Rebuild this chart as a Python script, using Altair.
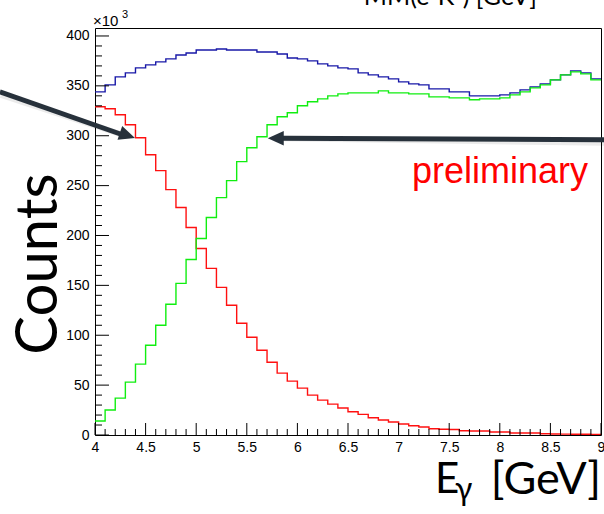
import altair as alt
import pandas as pd

# ---- data ----
bin_edges = [round(4.0 + 0.1 * i, 1) for i in range(51)]   # 50 bins of 0.1 GeV, 4..9 GeV

total = [344, 351, 359, 363, 368, 371, 374, 377, 381, 383,
         386, 386, 387, 386, 386, 386, 384, 384, 382, 378,
         377, 375, 372, 370, 368, 367, 363, 361, 359, 357,
         354, 352, 351, 347, 347, 344, 344, 340, 340, 340,
         341, 343, 346, 349, 352, 356, 361, 365, 363, 357]

red = [329, 327, 321, 311, 298, 281, 265, 246, 228, 208,
       187, 167, 148, 130, 112, 98, 85, 73, 62, 54,
       47, 40, 35, 31, 27, 23.3, 20.7, 17.3, 15, 13,
       11, 9.3, 8, 6.3, 5.7, 5.5, 4.3, 4, 4, 3,
       3, 2, 2, 2, 1.2, 1.0, 0.9, 0.8, 0.7, 0.6]

green = [14, 25, 37, 53, 71, 90, 110, 131, 152, 176,
         197, 218, 238, 255, 274, 288, 299, 311, 319, 323,
         330, 334, 337, 340, 342, 343, 343, 343, 345, 343,
         343, 342, 342, 339, 339, 338, 338, 336, 337, 337,
         338, 341, 344, 348, 351, 356, 361, 364, 362, 356]

x_major = [4, 4.5, 5, 5.5, 6, 6.5, 7, 7.5, 8, 8.5, 9]
x_minor = [e for i, e in enumerate(bin_edges) if i % 5 != 0]
y_major = [0, 50, 100, 150, 200, 250, 300, 350, 400]
y_minor = [v for v in range(0, 410, 10) if v % 50 != 0]

# arrows (data coordinates: start -> tip)
arrow_x1 = [3.06, 9.03]
arrow_y1 = [344, 296]
arrow_x2 = [4.30, 5.81]     # end of shaft
arrow_y2 = [300, 297.5]
arrow_tx = [4.395, 5.707]   # arrow tips
arrow_ty = [297.7, 297.5]
arrow_ang = [19, 180]

XMIN, XMAX, YMAX = 4, 9, 408
W, H = 506, 407


def steps(vals):
    xs_ = bin_edges[:]
    ys_ = list(vals) + [vals[-1]]
    return pd.DataFrame({"x": xs_, "y": ys_})


xs = alt.Scale(domain=[XMIN, XMAX], nice=False, zero=False)
ys = alt.Scale(domain=[0, YMAX], nice=False, zero=True)

x_axis = alt.Axis(values=x_major, format="~g", labelFont="Liberation Sans", labelFontSize=14,
                  labelColor="black", ticks=False, domain=False, grid=False, labelPadding=5,
                  labelOverlap=False, labelFlush=False, labelBound=False, title=None)
y_axis = alt.Axis(values=y_major, format="d", labelFont="Liberation Sans", labelFontSize=14,
                  labelColor="black", ticks=False, domain=False, grid=False, labelPadding=6,
                  labelOverlap=False, labelFlush=False, labelBound=False, title=None)


def X(f):
    return alt.X(f, scale=xs, axis=x_axis)


def Y(f):
    return alt.Y(f, scale=ys, axis=y_axis)


def hist(vals, color):
    return alt.Chart(steps(vals)).mark_line(interpolate="step-after", color=color,
                                            strokeWidth=1.4).encode(x=X("x:Q"), y=Y("y:Q"))


blue_line = hist(total, "#1818a8")
red_line = hist(red, "#ff1010")
green_line = hist(green, "#10ee10")

# inward ticks (ROOT style)
xmaj = alt.Chart(pd.DataFrame({"x": x_major})).mark_rule(color="black", strokeWidth=1).encode(
    x=X("x:Q"), y=alt.value(H), y2=alt.value(H - 12))
xmin = alt.Chart(pd.DataFrame({"x": x_minor})).mark_rule(color="black", strokeWidth=1).encode(
    x=X("x:Q"), y=alt.value(H), y2=alt.value(H - 6))
ymaj = alt.Chart(pd.DataFrame({"y": y_major})).mark_rule(color="black", strokeWidth=1).encode(
    y=Y("y:Q"), x=alt.value(0), x2=alt.value(14))
ymin = alt.Chart(pd.DataFrame({"y": y_minor})).mark_rule(color="black", strokeWidth=1).encode(
    y=Y("y:Q"), x=alt.value(0), x2=alt.value(7))

# arrows
adf = pd.DataFrame({"x1": arrow_x1, "y1": arrow_y1, "x2": arrow_x2, "y2": arrow_y2,
                    "tx": arrow_tx, "ty": arrow_ty, "ang": arrow_ang})
shadow = alt.Chart(adf).mark_rule(color="#000000", strokeWidth=6, opacity=0.08,
                                  xOffset=1, yOffset=3).encode(
    x=X("x1:Q"), y=Y("y1:Q"), x2="x2:Q", y2="y2:Q")
shaft = alt.Chart(adf).mark_rule(color="#27313b", strokeWidth=5, strokeCap="butt").encode(
    x=X("x1:Q"), y=Y("y1:Q"), x2="x2:Q", y2="y2:Q")
head = alt.Chart(adf).mark_point(shape="M0,0 L-2,-0.9 L-2,0.9 Z", filled=True, size=256,
                                 color="#27313b", opacity=1, strokeWidth=0).encode(
    x=X("tx:Q"), y=Y("ty:Q"), angle=alt.Angle("ang:Q", scale=None))


def label(text, x, y, size, font="Lato", color="black", align="left", angle=0, baseline="alphabetic"):
    kw = dict(text=text, font=font, fontSize=size, color=color, align=align, baseline=baseline)
    if angle:
        kw["angle"] = angle
    return alt.Chart(pd.DataFrame({"a": [0]})).mark_text(**kw).encode(
        x=alt.value(x), y=alt.value(y))


texts = [
    label("×10", -2, -2, 15, font="Liberation Sans"),
    label("3", 27, -10, 11, font="Liberation Sans"),
    label("MM(e⁻K⁺) [GeV]", 442, -23, 25, align="right"),
    label("Counts", -55, 236, 58, align="center", angle=270, baseline="middle"),
    label("E", 340, 465, 42),
    label("γ", 360, 472, 32),
    label("[GeV]", 506, 466, 45, align="right"),
    label("preliminary", 493, 155, 36, font="Liberation Sans", color="#ff0000", align="right"),
]

chart = alt.layer(blue_line, red_line, green_line, xmaj, xmin, ymaj, ymin,
                  shadow, shaft, head, *texts).properties(
    width=W, height=H,
    autosize=alt.AutoSizeParams(type="none"),
    padding={"left": 95, "top": 28, "right": 3, "bottom": 79},
    background="white",
).configure_view(stroke="black", strokeWidth=1)

chart.save("out.html", embed_options={"renderer": "svg", "actions": False})
